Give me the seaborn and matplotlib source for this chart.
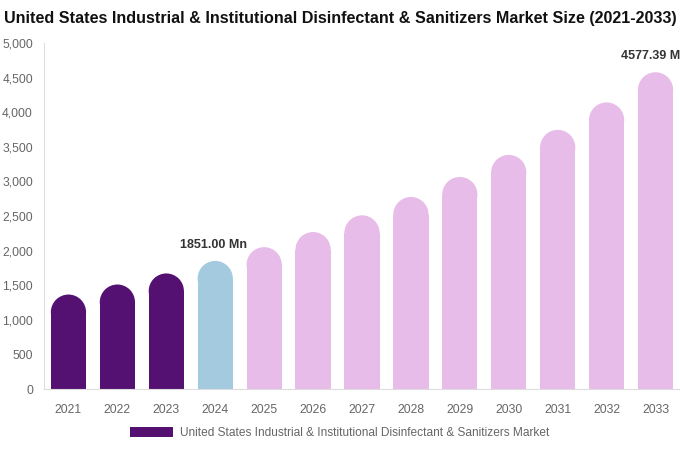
import matplotlib
matplotlib.use("Agg")
import matplotlib.pyplot as plt
from matplotlib.patches import Ellipse, Patch
import pandas as pd
import seaborn as sns

years = ['2021', '2022', '2023', '2024', '2025', '2026', '2027',
         '2028', '2029', '2030', '2031', '2032', '2033']
values = [1365, 1510, 1670, 1851.00, 2050, 2268, 2510,
          2775, 3064, 3383, 3745, 4141, 4577.39]
phase = ['past', 'past', 'past', 'current'] + ['forecast'] * 9
colours = {'past': '#541172', 'current': '#a4cadf', 'forecast': '#e8bce9'}
series_name = 'United States Industrial & Institutional Disinfectant & Sanitizers Market'
title = 'United States Industrial & Institutional Disinfectant & Sanitizers Market Size (2021-2033)'

df = pd.DataFrame({'year': years, 'value': values, 'phase': phase})

sns.set_style('white')
plt.rcParams['font.family'] = ['Liberation Sans', 'DejaVu Sans']

fig = plt.figure(figsize=(6.8, 4.5), dpi=100)
ax = fig.add_axes([44 / 680, 61 / 450, 636 / 680, 346 / 450])
sns.barplot(data=df, x='year', y='value', hue='phase', palette=colours,
            width=0.72, dodge=False, legend=False, saturation=1,
            linewidth=0, ax=ax)
ax.set_xlim(-0.5, 12.5)
ax.set_ylim(0, 5000)

# rounded tops: shrink each bar and put a half-ellipse cap on it
px_per_unit = 346 / 5000
for p in list(ax.patches):
    h = p.get_height()
    if h <= 0:
        continue
    w = p.get_width()
    r = (w * 636 / 13) / 2 / px_per_unit
    p.set_height(h - r)
    cap = Ellipse((p.get_x() + w / 2, h - r), w, 2 * r,
                  facecolor=p.get_facecolor(), edgecolor='none', linewidth=0)
    ax.add_patch(cap)

ax.set_yticks(range(0, 5001, 500))
ax.set_yticklabels([f'{v:,}' for v in range(0, 5001, 500)])
ax.tick_params(axis='y', length=0, labelsize=8.7, labelcolor='#666666', pad=8)
ax.tick_params(axis='x', length=0, labelsize=8.8, labelcolor='#666666', pad=11)
ax.set_xlabel('')
ax.set_ylabel('')
for s in ['top', 'right']:
    ax.spines[s].set_visible(False)
for s in ['left', 'bottom']:
    ax.spines[s].set_color('#dddddd')
    ax.spines[s].set_linewidth(0.8)

for i in [3, 12]:
    ax.text(i - 0.03, values[i] + 150, f'{values[i]:.2f} Mn', ha='center', va='bottom',
            fontsize=9, fontweight='bold', color='#333333', clip_on=False)

fig.text(0.5, 0.975, title, ha='center', va='top', fontsize=11.6, fontweight='bold',
         color='#111111')

handle = Patch(facecolor=colours['past'], edgecolor='none')
fig.legend([handle], [series_name], loc='center', bbox_to_anchor=(0.5, 0.038),
           frameon=False, fontsize=8.6, labelcolor='#666666',
           handlelength=3.6, handleheight=0.9, handletextpad=0.6)

fig.savefig('out.png', dpi=100)
